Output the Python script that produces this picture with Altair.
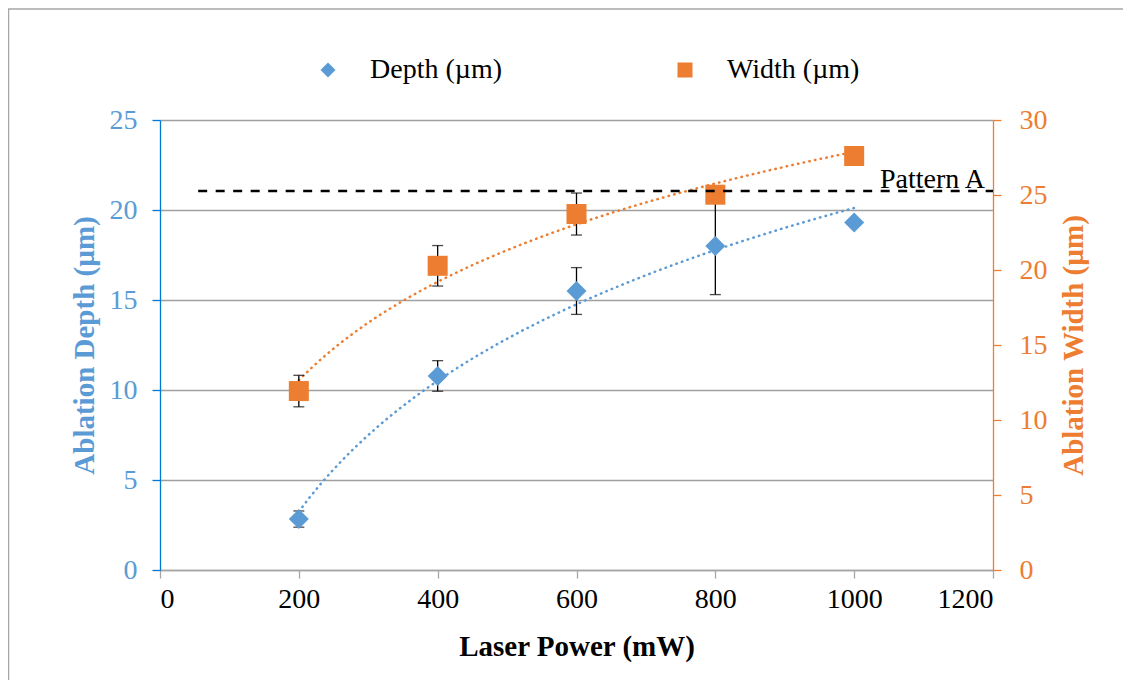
import altair as alt
import pandas as pd

# ---- data ----
power = [200, 400, 600, 800, 1000]
depth = [2.83, 10.78, 15.5, 18.0, 19.3]
depth_err = [0.45, 0.85, 1.3, 2.7, 0.0]
width = [11.93, 20.28, 23.73, 25.02, 27.6]
width_err = [1.05, 1.35, 1.4, 0.5, 0.6]
series_names = ["Depth (µm)", "Width (µm)"]
series_colors = ["#5B9BD5", "#ED7D31"]
series_shapes = ["diamond", "square"]
pattern_x = [55, 1200]
pattern_y_width = [25.27, 25.27]   # = 21.06 µm on the depth axis
pattern_label = ["Pattern A"]
x_ticks = [0, 200, 400, 600, 800, 1000, 1200]
depth_ticks = [0, 5, 10, 15, 20, 25]
width_ticks = [0, 5, 10, 15, 20, 25, 30]

FONT = "Liberation Serif"
FS = 28
TFS = 29
W, H = 833, 450

df_d = pd.DataFrame({"power": power, "value": depth, "err": depth_err,
                     "series": series_names[0]})
df_w = pd.DataFrame({"power": power, "value": width, "err": width_err,
                     "series": series_names[1]})
df_p = pd.DataFrame({"power": pattern_x, "value": pattern_y_width})
df_lab = pd.DataFrame({"power": [pattern_x[1]], "value": [pattern_y_width[1]],
                       "label": pattern_label})

x_axis = alt.Axis(values=x_ticks, format="d", title="Laser Power (mW)", grid=False,
                  domainColor="#A6A6A6", domainWidth=1.3, tickColor="#A6A6A6",
                  tickSize=8, tickWidth=1.3, labelColor="black", labelFontSize=FS,
                  labelPadding=7, titleFontSize=TFS, titleFontWeight="bold",
                  titleColor="black", titleX=W / 2, titleY=76,
                  titleAlign="center", titleBaseline="middle")
x_enc = alt.X("power:Q", scale=alt.Scale(domain=[0, 1200], nice=False), axis=x_axis)

left_axis = alt.Axis(orient="left", values=depth_ticks, title="Ablation Depth (µm)",
                     grid=True, gridColor="#A0A0A0", gridWidth=1.3,
                     domainColor="#0078D4", domainWidth=1.3, tickColor="#0078D4",
                     tickSize=8, tickWidth=1.3, labelColor="#5B9BD5",
                     labelFontSize=FS, labelPadding=15, titleFontSize=TFS,
                     titleFontWeight="bold", titleColor="#5B9BD5", titleAngle=270,
                     titleX=-76, titleY=H / 2, titleAlign="center",
                     titleBaseline="middle")
right_axis = alt.Axis(orient="right", values=width_ticks, title="Ablation Width (µm)",
                      grid=False, domainColor="#ED7D31", domainWidth=1.3,
                      tickColor="#ED7D31", tickSize=8, tickWidth=1.3,
                      labelColor="#ED7D31", labelFontSize=FS, labelPadding=18,
                      titleFontSize=TFS, titleFontWeight="bold", titleColor="#ED7D31",
                      titleAngle=270, titleX=80, titleY=H / 2, titleAlign="center",
                      titleBaseline="middle")

d_scale = alt.Scale(domain=[0, 25], nice=False)
w_scale = alt.Scale(domain=[0, 30], nice=False)

color_enc = alt.Color("series:N", scale=alt.Scale(domain=series_names, range=series_colors),
                      legend=alt.Legend(title=None, orient="none", legendX=154, legendY=-64,
                                        direction="horizontal", columns=2,
                                        columnPadding=169, labelOffset=28,
                                        labelFont=FONT, labelFontSize=FS,
                                        labelColor="black", symbolSize=225,
                                        symbolStrokeWidth=0, symbolOpacity=1))
shape_enc = alt.Shape("series:N", scale=alt.Scale(domain=series_names, range=series_shapes),
                      legend=None)


def group(df, scale, axis, color):
    base = alt.Chart(df)
    y = alt.Y("value:Q", scale=scale, axis=axis)
    trend = base.transform_regression("power", "value", method="log",
                                      extent=[200, 1000]).mark_line(
        color=color, strokeWidth=2.5, strokeDash=[0.5, 5.3], strokeCap="round"
    ).encode(x=x_enc, y=y)
    bars = base.transform_calculate(lo="datum.value - datum.err",
                                    hi="datum.value + datum.err")
    rule = bars.mark_rule(color="black", strokeWidth=1.3).encode(
        x=x_enc, y=alt.Y("lo:Q", scale=scale, axis=axis), y2="hi:Q")
    cap_lo = bars.mark_tick(color="black", thickness=1.3, size=11,
                            orient="horizontal").encode(
        x=x_enc, y=alt.Y("lo:Q", scale=scale, axis=axis))
    cap_hi = bars.mark_tick(color="black", thickness=1.3, size=11,
                            orient="horizontal").encode(
        x=x_enc, y=alt.Y("hi:Q", scale=scale, axis=axis))
    pts = base.mark_point(filled=True, size=400, opacity=1, strokeWidth=0).encode(
        x=x_enc, y=y, color=color_enc, shape=shape_enc)
    return [trend, rule, cap_lo, cap_hi, pts]


border = alt.Chart(pd.DataFrame({"a": [0]})).mark_rect(
    fill="transparent", stroke="#A6A6A6", strokeWidth=1.5
).encode(x=alt.value(-151.5), x2=alt.value(1300), y=alt.value(-111), y2=alt.value(900))

depth_group = alt.layer(border, *group(df_d, d_scale, left_axis, series_colors[0]))

w_y = alt.Y("value:Q", scale=w_scale, axis=right_axis)
pattern = alt.Chart(df_p).mark_line(color="black", strokeWidth=2.5,
                                    strokeDash=[9, 8.5]).encode(x=x_enc, y=w_y)
pattern_text = alt.Chart(df_lab).mark_text(
    font=FONT, fontSize=FS, color="black", align="right", baseline="alphabetic",
    dx=-8, dy=-3).encode(x=x_enc, y=w_y, text="label:N")
width_group = alt.layer(*group(df_w, w_scale, right_axis, series_colors[1]),
                        pattern, pattern_text)

chart = alt.layer(depth_group, width_group).resolve_scale(y="independent").properties(
    width=W, height=H,
    autosize=alt.AutoSizeParams(type="none"),
    padding={"left": 152, "top": 112, "right": 130, "bottom": 110},
).configure_view(stroke=None).configure_axis(
    labelFont=FONT, titleFont=FONT
).configure_legend(labelFont=FONT)

chart.save("out.html", embed_options={"renderer": "svg", "actions": False})
